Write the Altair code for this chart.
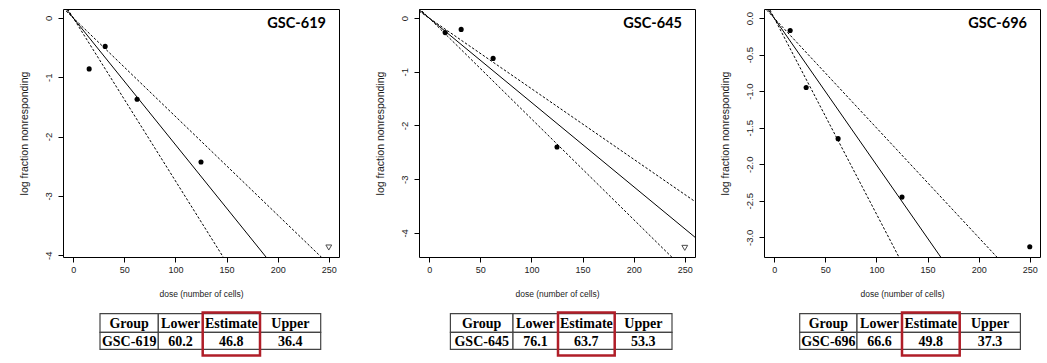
import altair as alt
import pandas as pd

# ---------------- data ----------------
groups = ["GSC-619", "GSC-645", "GSC-696"]
doses = [15.6, 31.25, 62.5, 125, 250]
logfrac = {
    "GSC-619": [-0.86, -0.48, -1.37, -2.43, -3.87],
    "GSC-645": [-0.27, -0.21, -0.75, -2.40, -4.28],
    "GSC-696": [-0.17, -0.95, -1.65, -2.45, -3.13],
}
censored = {
    "GSC-619": [False, False, False, False, True],
    "GSC-645": [False, False, False, False, True],
    "GSC-696": [False, False, False, False, False],
}
lower = [60.2, 76.1, 66.6]
estimate = [46.8, 63.7, 49.8]
upper = [36.4, 53.3, 37.3]
headers = ["Group", "Lower", "Estimate", "Upper"]

x_ticks = [0, 50, 100, 150, 200, 250]
y_ticks = [[-4, -3, -2, -1, 0], [-4, -3, -2, -1, 0], [-3.0, -2.5, -2.0, -1.5, -1.0, -0.5, 0.0]]
y_formats = ["d", "d", ".1f"]
y_domains = [[-4.03, 0.15], [-4.45, 0.17], [-3.27, 0.125]]
x_domain = [-10, 260]

# ---------------- layout (pixels) ----------------
PW, PH = 276, 248
TH = 48
table_w = [287, 276, 276]
table_left = [37, 31.4, 35.7]
col_widths = [[58.3, 44.4, 57.3, 60.7], [62.6, 45, 56.7, 57.3], [57.3, 45, 57.7, 60.7]]
row_edges = [2.7, 21.3, 38.3]
red_box_y = [1.5, 44.5]

FONT = "Liberation Sans"
HYPHEN = "replace(datum.label, '\u2212', '-')"


def make_plot(i):
    g = groups[i]
    pts = pd.DataFrame({"dose": doses, "lf": logfrac[g], "cens": censored[g]})
    rows = []
    for name, e in [("est", estimate[i]), ("low", lower[i]), ("up", upper[i])]:
        for xv in x_domain:
            rows.append({"line": name, "dose": xv, "lf": -xv / e})
    lines = pd.DataFrame(rows)

    xs = alt.Scale(domain=x_domain, nice=False, zero=False)
    ys = alt.Scale(domain=y_domains[i], nice=False, zero=False)
    xax = alt.Axis(values=x_ticks, title="dose (number of cells)", grid=False, domain=False,
                   tickSize=5, tickColor="black", labelFont=FONT, labelFontSize=9,
                   labelColor="#222", labelPadding=3, titleFont=FONT, titleFontSize=8.5,
                   titleFontWeight="normal", titleColor="#222", titleY=36,
                   titleBaseline="middle")
    yax = alt.Axis(values=y_ticks[i], format=y_formats[i], labelExpr=HYPHEN,
                   title="log fraction nonresponding",
                   grid=False, domain=False, tickSize=5, tickColor="black", labelFont=FONT,
                   labelFontSize=9.5, labelColor="#222", labelAngle=270, labelPadding=5,
                   titleFont=FONT, titleFontSize=10.5, titleFontWeight="normal",
                   titleColor="#222", titleX=-39, titleBaseline="middle")

    solid = alt.Chart(lines).transform_filter(alt.datum.line == "est").mark_line(
        color="black", strokeWidth=1, clip=True).encode(
        x=alt.X("dose:Q", scale=xs, axis=xax), y=alt.Y("lf:Q", scale=ys, axis=yax))
    dashed = alt.Chart(lines).transform_filter(alt.datum.line != "est").mark_line(
        color="black", strokeWidth=1, strokeDash=[2.5, 1.8], clip=True).encode(
        x=alt.X("dose:Q", scale=xs), y=alt.Y("lf:Q", scale=ys), detail="line:N")
    dots = alt.Chart(pts).transform_filter(alt.datum.cens == False).mark_point(
        filled=True, color="black", size=26, opacity=1).encode(
        x=alt.X("dose:Q", scale=xs), y=alt.Y("lf:Q", scale=ys))
    tri = alt.Chart(pts).transform_filter(alt.datum.cens == True).mark_point(
        shape="triangle-down", filled=False, color="black", size=34, strokeWidth=1).encode(
        x=alt.X("dose:Q", scale=xs), y=alt.Y("lf:Q", scale=ys))
    label = alt.Chart(pd.DataFrame({"g": [g]})).mark_text(
        font="Lato", fontWeight="bold", fontSize=14.5, align="right", baseline="middle",
        color="black").encode(text="g:N", x=alt.value(PW - 13), y=alt.value(15))
    return alt.layer(dashed, solid, dots, tri, label).properties(width=PW, height=PH)


def make_table(i):
    edges = [table_left[i]]
    for w in col_widths[i]:
        edges.append(edges[-1] + w)
    vals = [groups[i], f"{lower[i]:.1f}", f"{estimate[i]:.1f}", f"{upper[i]:.1f}"]
    cells = []
    for r, texts in enumerate([headers, vals]):
        for c in range(4):
            cells.append({"x0": edges[c], "x1": edges[c + 1], "y0": row_edges[r],
                          "y1": row_edges[r + 1], "xc": (edges[c] + edges[c + 1]) / 2,
                          "yc": (row_edges[r] + row_edges[r + 1]) / 2 + 0.8, "t": texts[c]})
    df = pd.DataFrame(cells)
    box = pd.DataFrame({"x0": [edges[2]], "x1": [edges[3]], "y0": [red_box_y[0]], "y1": [red_box_y[1]]})
    xs = alt.Scale(domain=[0, table_w[i]], nice=False, zero=False)
    ys = alt.Scale(domain=[0, TH], nice=False, zero=False, reverse=True)
    rect = alt.Chart(df).mark_rect(fill="white", stroke="#444", strokeWidth=1.2).encode(
        x=alt.X("x0:Q", scale=xs, axis=None), x2="x1:Q",
        y=alt.Y("y0:Q", scale=ys, axis=None), y2="y1:Q")
    text = alt.Chart(df).mark_text(font="Liberation Serif", fontWeight="bold", fontSize=14,
                                   baseline="middle", align="center", color="black").encode(
        x=alt.X("xc:Q", scale=xs, axis=None), y=alt.Y("yc:Q", scale=ys, axis=None), text="t:N")
    red = alt.Chart(box).mark_rect(fill="transparent", stroke="#b01e28", strokeWidth=2.5).encode(
        x=alt.X("x0:Q", scale=xs, axis=None), x2="x1:Q",
        y=alt.Y("y0:Q", scale=ys, axis=None), y2="y1:Q")
    return alt.layer(rect, text, red, view=alt.ViewBackground(stroke="transparent")).properties(
        width=table_w[i], height=TH)


panels = [make_plot(i) for i in range(3)] + [make_table(i) for i in range(3)]
chart = alt.concat(*panels, columns=3, spacing={"row": 54, "column": 69}, bounds="flush").properties(
    padding={"left": 18, "top": 8, "right": 0, "bottom": 0}, background="white"
).configure_view(stroke="black", strokeWidth=1)

chart.save("out.html", embed_options={"renderer": "svg", "actions": False})
